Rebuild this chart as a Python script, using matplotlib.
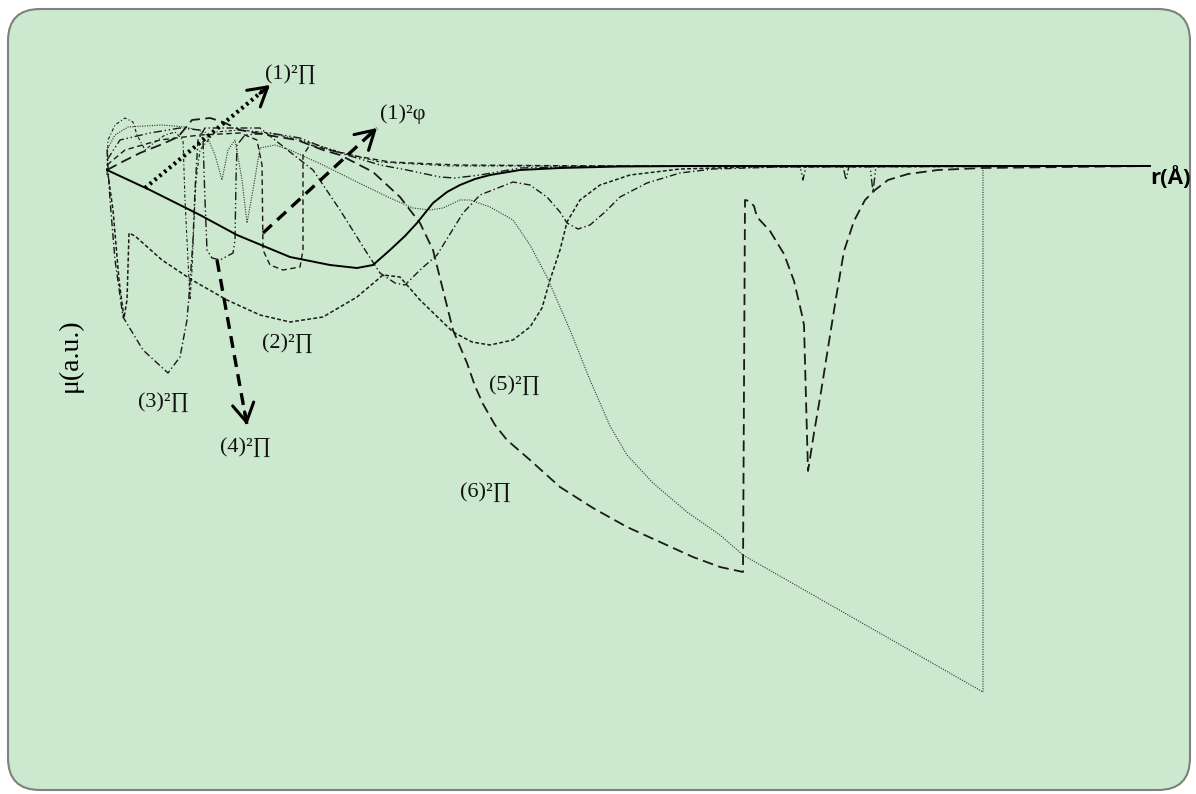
import matplotlib
matplotlib.use("Agg")
import matplotlib.pyplot as plt
from matplotlib.patches import FancyBboxPatch

# ---------------- data (r in Å-like units, mu in a.u.) ----------------
# (1)^2Π  solid
r_A = [1.00, 1.43, 1.93, 2.30, 2.83, 3.23, 3.50, 3.66, 3.83, 3.98, 4.10, 4.26, 4.40, 4.53, 4.68, 4.83, 5.13, 5.53, 6.13, 6.93, 11.43]
mu_A = [-0.04, -0.24, -0.49, -0.69, -0.91, -0.99, -1.02, -0.99, -0.84, -0.70, -0.57, -0.37, -0.26, -0.19, -0.13, -0.09, -0.04, -0.02, -0.005, 0, 0]

# (2)^2Π  fine dashed
r_B = [1.00, 1.06, 1.12, 1.17, 1.20, 1.22, 1.28, 1.55, 1.85, 2.20, 2.53, 2.83, 3.16, 3.50, 3.76, 3.93, 4.13, 4.46,
       4.65, 4.83, 5.06, 5.23, 5.35, 5.43, 5.53, 5.60, 5.73, 5.93, 6.23, 6.73, 7.43, 11.43]
mu_B = [-0.02, -0.44, -1.14, -1.52, -1.34, -0.67, -0.70, -0.94, -1.14, -1.34, -1.49, -1.56, -1.51, -1.31, -1.09, -1.11,
        -1.34, -1.66, -1.76, -1.79, -1.74, -1.61, -1.42, -1.14, -0.84, -0.56, -0.34, -0.19, -0.09, -0.03, -0.01, 0]

# (3)^2Π  dash-dot
r_C = [1.00, 1.03, 1.08, 1.16, 1.36, 1.61, 1.73, 1.80, 1.83, 1.86, 1.88, 1.91, 1.98, 2.23, 2.53, 2.83, 3.06, 3.33,
       3.60, 3.73, 3.88, 3.98, 4.13, 4.30, 4.56, 4.73, 5.06, 5.23, 5.40, 5.53, 5.60, 5.71, 5.83, 5.98, 6.13, 6.40,
       6.73, 7.06, 7.73, 11.43]
mu_C = [0.16, -0.34, -0.94, -1.51, -1.84, -2.07, -1.91, -1.54, -1.17, -0.74, -0.24, 0.26, 0.38, 0.38, 0.38, 0.14,
        -0.04, -0.44, -0.87, -1.07, -1.17, -1.19, -1.04, -0.89, -0.47, -0.29, -0.16, -0.19, -0.31, -0.46, -0.57,
        -0.63, -0.59, -0.46, -0.31, -0.17, -0.07, -0.03, -0.01, 0]

# (6)^2Π  long dashed
r_E = [1.00, 1.15, 1.33, 1.53, 1.71, 1.85, 2.03, 2.16, 2.33, 2.60, 2.90, 3.16, 3.33, 3.66, 3.93, 4.13, 4.26, 4.36,
       4.46, 4.60, 4.68, 4.76, 4.88, 5.00, 5.23, 5.53, 5.86, 6.20, 6.53, 6.86, 7.13, 7.36, 7.38, 7.42, 7.47, 7.50, 7.63, 7.77,
       7.87, 7.95, 7.97, 7.99, 8.01, 8.07, 8.14, 8.21, 8.29, 8.37, 8.47, 8.58, 8.68, 8.81, 9.01, 9.31, 9.75, 11.43]
mu_E = [-0.04, 0.04, 0.13, 0.21, 0.29, 0.46, 0.48, 0.44, 0.36, 0.31, 0.26, 0.16, 0.11, -0.06, -0.31, -0.57, -0.84,
        -1.24, -1.64, -1.97, -2.20, -2.38, -2.59, -2.74, -2.94, -3.21, -3.42, -3.61, -3.76, -3.91, -4.01, -4.06, -0.34, -0.35,
        -0.40, -0.51, -0.65, -0.88, -1.15, -1.49, -1.59, -2.33, -3.05, -2.67, -2.26, -1.82, -1.32, -0.85, -0.55,
        -0.34, -0.24, -0.14, -0.08, -0.04, -0.02, 0]

# (5)^2Π  fine dotted
r_F = [1.00, 1.08, 1.21, 1.55, 1.78, 1.98, 2.08, 2.15, 2.21, 2.28, 2.35, 2.40, 2.46, 2.53, 2.68, 2.83, 3.16, 3.50,
       3.83, 4.06, 4.23, 4.36, 4.53, 4.63, 4.83, 5.06, 5.23, 5.40, 5.50, 5.63, 5.83, 6.03, 6.20, 6.46, 6.80, 7.13,
       7.36, 9.76, 9.76, 11.43]
mu_F = [0.16, 0.31, 0.39, 0.41, 0.39, 0.34, 0.11, -0.14, 0.16, 0.26, -0.14, -0.57, -0.24, 0.18, 0.21, 0.16, 0.01,
        -0.16, -0.32, -0.42, -0.44, -0.42, -0.34, -0.34, -0.41, -0.54, -0.79, -1.11, -1.34, -1.64, -2.14, -2.60,
        -2.89, -3.17, -3.46, -3.69, -3.89, -5.26, 0, 0]

# (4)^2Π  dash-dot-dot
r_G1 = [1.00, 1.13, 1.43, 1.73, 1.93, 1.96, 1.98, 2.00, 2.05, 2.13, 2.26, 2.28, 2.29, 2.30, 2.38, 2.63, 2.93, 3.23,
        3.50, 3.73, 4.00, 4.33, 4.48, 4.73, 5.13, 5.93, 7.93, 7.96, 7.99, 8.36, 8.39, 8.42, 8.63, 8.66, 8.69, 11.43]
mu_G1 = [0.06, 0.26, 0.33, 0.38, 0.36, 0.26, -0.34, -0.84, -0.92, -0.94, -0.87, -0.74, -0.14, 0.21, 0.31, 0.33,
         0.28, 0.16, 0.08, 0.01, -0.04, -0.11, -0.12, -0.09, -0.02, 0, 0, -0.14, 0, 0, -0.14, 0, 0, -0.26, 0, 0]

# (1)^2φ  dashed
r_G2 = [1.00, 1.18, 1.53, 1.93, 2.33, 2.50, 2.55, 2.56, 2.63, 2.76, 2.93, 2.96, 2.96, 3.03, 3.43, 3.83, 4.50, 5.93, 11.43]
mu_G2 = [0.01, 0.16, 0.26, 0.31, 0.33, 0.26, 0.01, -0.84, -0.99, -1.04, -1.01, -0.84, 0.11, 0.21, 0.11, 0.04, 0.01, 0, 0]

# extra thin dash-dot state in the crossing region
r_H = [1.00, 1.01, 1.08, 1.18, 1.26, 1.30, 1.38, 1.48, 1.58, 1.68, 1.76, 1.78, 1.81, 1.83, 1.85, 1.87, 1.89, 1.93,
       2.08, 2.33, 2.63, 2.93, 3.33, 3.73, 4.43, 11.43]
mu_H = [-0.09, 0.26, 0.41, 0.48, 0.44, 0.31, 0.16, 0.24, 0.31, 0.34, 0.26, -0.34, -0.94, -1.34, -1.04, -0.54, -0.14,
        0.16, 0.34, 0.36, 0.33, 0.26, 0.14, 0.04, 0, 0]

labels = ["(1)²∏", "(1)²φ", "(2)²∏", "(3)²∏", "(4)²∏", "(5)²∏", "(6)²∏"]
label_r = [2.58, 3.73, 2.55, 1.31, 2.13, 4.82, 4.53]
label_mu = [0.92, 0.52, -1.77, -2.36, -2.81, -2.19, -3.26]

# ---------------- figure ----------------
fig = plt.figure(figsize=(11.96, 7.94), dpi=100)
fig.patch.set_facecolor("white")
bg = FancyBboxPatch((0.08, 0.04), 11.82, 7.81,
                    boxstyle="round,pad=0,rounding_size=0.32",
                    transform=fig.dpi_scale_trans,
                    facecolor="#CCE8CF", edgecolor="#808080", lw=1.5, zorder=0)
fig.add_artist(bg)

ax = fig.add_axes([0, 0, 1, 1])
ax.set_xlim(-0.07, 11.89)
ax.set_ylim(-6.28, 1.66)
ax.axis("off")
ax.patch.set_alpha(0)

k = "#1a1a1a"
ax.plot(r_F, mu_F, color="#333333", lw=0.8, dashes=(1, 1.2))
ax.plot(r_H, mu_H, color=k, lw=0.8, dashes=(3, 2, 1, 2))
ax.plot(r_G2, mu_G2, color=k, lw=1.0, dashes=(4, 2.5))
ax.plot(r_G1, mu_G1, color=k, lw=1.0, dashes=(6, 2, 1, 2, 1, 2))
ax.plot(r_C, mu_C, color=k, lw=1.0, dashes=(5, 2, 1, 2))
ax.plot(r_B, mu_B, color=k, lw=1.1, dashes=(2.5, 1.5))
ax.plot(r_E, mu_E, color=k, lw=1.3, dashes=(6, 3))
ax.plot(r_A, mu_A, color="black", lw=1.4)

# ---------------- arrows ----------------
def arrow(x0, y0, x1, y1, dashes, lw):
    ax.plot([x0, x1], [y0, y1], color="black", lw=lw, dashes=dashes, solid_capstyle="butt")
    dx, dy = x1 - x0, y1 - y0
    ax.annotate("", xy=(x1, y1), xytext=(x1 - 0.08 * dx, y1 - 0.08 * dy),
                arrowprops=dict(arrowstyle="->,head_length=0.6,head_width=0.35",
                                lw=2.2, color="black", mutation_scale=22,
                                shrinkA=0, shrinkB=0))

arrow(1.38, -0.22, 2.63, 0.81, (0.6, 0.9), 3.0)
arrow(2.56, -0.67, 3.70, 0.38, (3.6, 2.2), 2.4)
arrow(2.10, -0.94, 2.40, -2.59, (3.6, 2.2), 2.4)

serif = ["Liberation Serif", "DejaVu Serif"]
for t, x, y in zip(labels, label_r, label_mu):
    ax.text(x, y, t, fontsize=16, family=serif, ha="left", va="center", color="#111111")

ax.text(11.43, -0.12, "r(Å)", fontsize=16, fontweight="bold", family=["Open Sans", "DejaVu Sans"],
        ha="left", va="center")
ax.text(0.63, -1.89, "μ(a.u.)", fontsize=20, family=serif, rotation=90, ha="center", va="center")

fig.savefig("out.png", dpi=100)
